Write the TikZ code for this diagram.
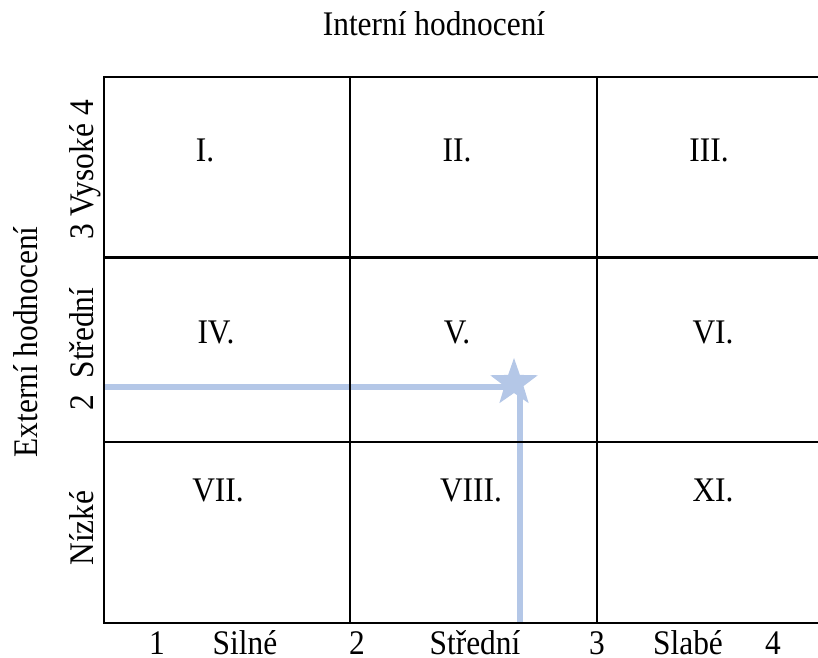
\documentclass[tikz,border=0pt]{standalone}
\usepackage{fontspec}
\setmainfont{Liberation Serif}
\usetikzlibrary{shapes.geometric}
\definecolor{lblue}{HTML}{B4C7E7}
\newcommand{\tx}[1]{\scalebox{0.91}[1]{#1}}
\begin{document}
\begin{tikzpicture}[x=1pt,y=-1pt,
  grid/.style={line width=2.2pt,black},
  lbl/.style={font=\fontsize{34.5}{40}\selectfont,inner sep=0pt,anchor=base},
  vlbl/.style={lbl,rotate=90},
  mark line/.style={lblue,line width=6pt}]
\useasboundingbox (0,0) rectangle (818,657);
% grid
\coordinate (tl) at (104,77);
\coordinate (bl) at (104,623);
\coordinate (tr) at (818,77);
\coordinate (br) at (818,623);
\coordinate (h1l) at (104,257.5);
\coordinate (h1r) at (818,257.5);
\coordinate (h2l) at (104,442);
\coordinate (h2r) at (818,442);
\coordinate (v1t) at (350,77);
\coordinate (v1b) at (350,623);
\coordinate (v2t) at (597,77);
\coordinate (v2b) at (597,623);
% blue marker lines
\coordinate (hs) at (104,386.5);
\coordinate (he) at (512,386.5);
\coordinate (vs) at (520,390);
\coordinate (ve) at (520,623);
\draw[mark line] (hs) -- (he);
\draw[mark line] (vs) -- (ve);
\node[star,star points=5,star point ratio=2.5,minimum size=50pt,inner sep=0pt,fill=lblue] (star) at (514,383) {};
\draw[grid] (tr) -- (tl) -- (bl) -- (br);
\draw[grid] (h1l) -- (h1r);
\draw[grid] (h2l) -- (h2r);
\draw[grid] (v1t) -- (v1b);
\draw[grid] (v2t) -- (v2b);
% cell labels
\node[lbl] (c1) at (205,161) {\tx{I.}};
\node[lbl] (c2) at (457,161) {\tx{II.}};
\node[lbl] (c3) at (709,161) {\tx{III.}};
\node[lbl] (c4) at (216,343) {\tx{IV.}};
\node[lbl] (c5) at (457,343) {\tx{V.}};
\node[lbl] (c6) at (713,343) {\tx{VI.}};
\node[lbl] (c7) at (218,501) {\tx{VII.}};
\node[lbl] (c8) at (471,501) {\tx{VIII.}};
\node[lbl] (c9) at (713,501) {\tx{XI.}};
% titles
\node[lbl] (top) at (434,35) {\tx{Interní hodnocení}};
\node[vlbl] (left) at (37,342) {\tx{Externí hodnocení}};
% left axis
\node[vlbl] (yhigh) at (93,170) {\tx{3 Vysoké 4}};
\node[vlbl] (ymid) at (93,333) {\tx{Střední}};
\node[vlbl] (y2) at (93,403) {\tx{2}};
\node[vlbl] (ylow) at (93,528) {\tx{Nízké}};
% bottom axis
\node[lbl] (x1) at (157,654) {\tx{1}};
\node[lbl] (xs) at (245,654) {\tx{Silné}};
\node[lbl] (x2) at (357,654) {\tx{2}};
\node[lbl] (xm) at (475,654) {\tx{Střední}};
\node[lbl] (x3) at (597,654) {\tx{3}};
\node[lbl] (xw) at (688,654) {\tx{Slabé}};
\node[lbl] (x4) at (773,654) {\tx{4}};
\end{tikzpicture}
\end{document}
